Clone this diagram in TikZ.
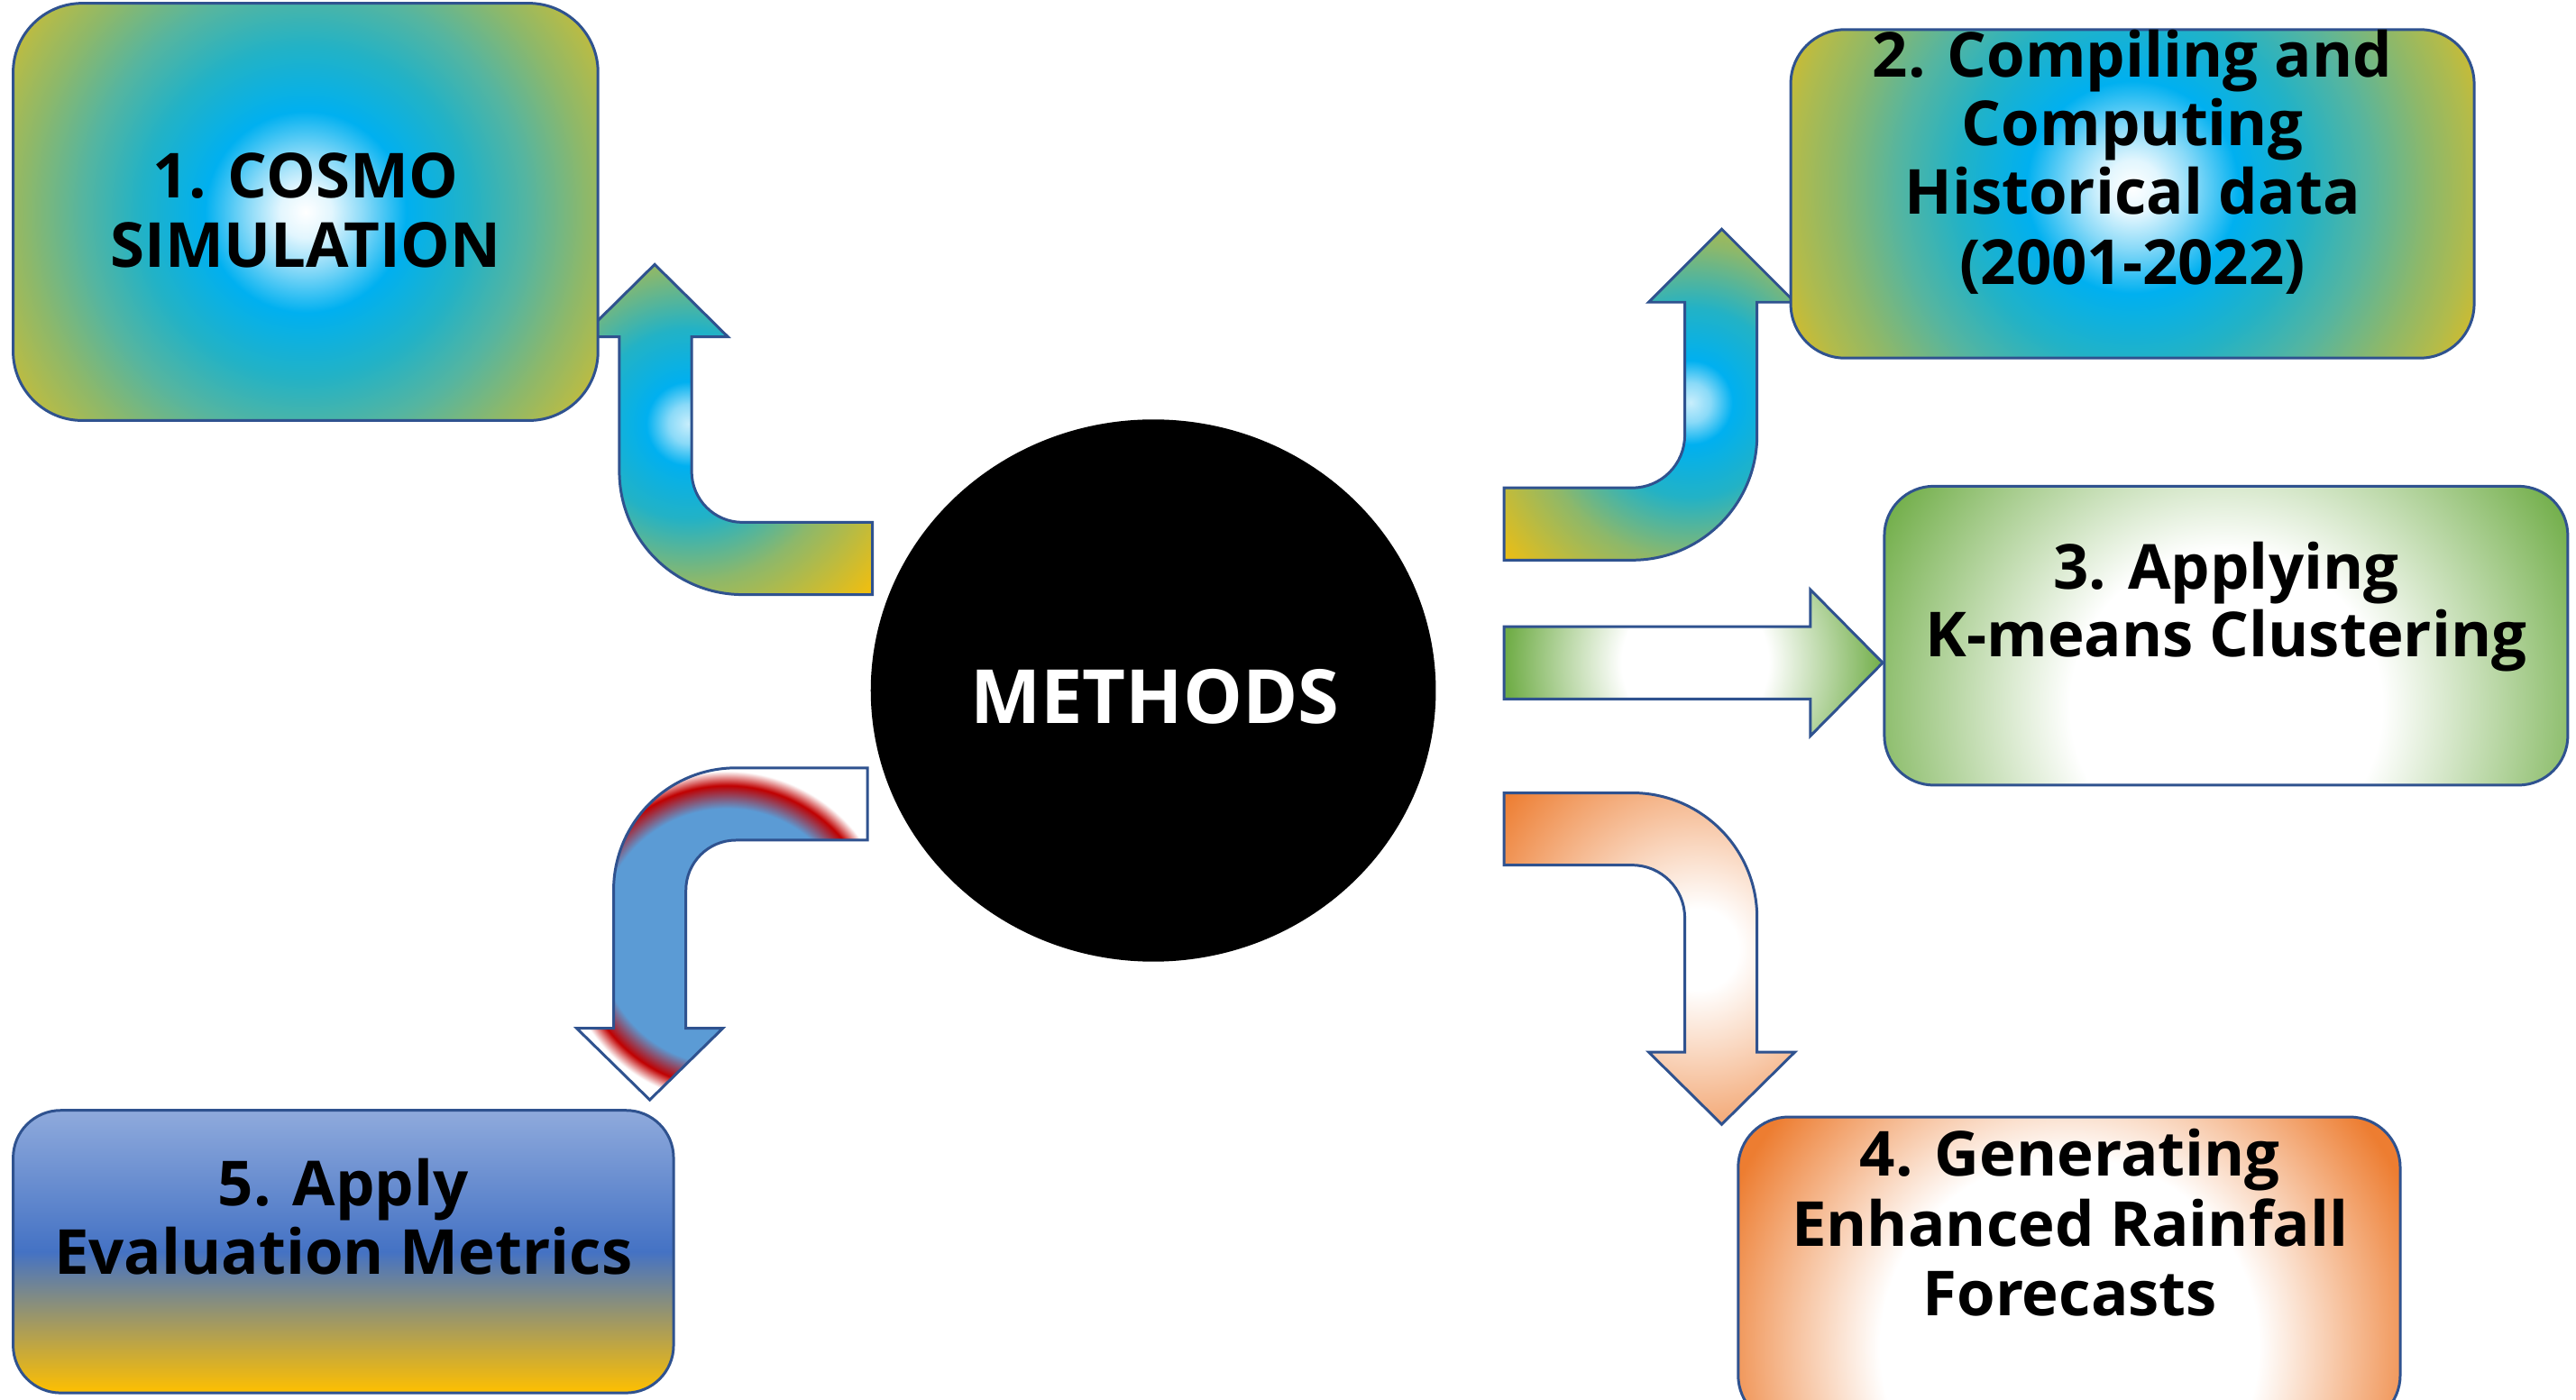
\documentclass[tikz,border=0pt]{standalone}
\usepackage{fontspec}
\setmainfont{Open Sans}
\usetikzlibrary{fit,calc,shapes.geometric}

\definecolor{bordc}{HTML}{2F528F}
\definecolor{cLight}{HTML}{E2F6FE}
\definecolor{cLightM}{HTML}{8ADAF8}
\definecolor{cLightB}{HTML}{C8EEFC}
\definecolor{cBlue}{HTML}{00B0F0}
\definecolor{cTeal}{HTML}{22B2C6}
\definecolor{cTealG}{HTML}{55B5A0}
\definecolor{cGreen}{HTML}{8DB86A}
\definecolor{cYG}{HTML}{B3BB4A}
\definecolor{cGold}{HTML}{DABB24}
\definecolor{cGoldB}{HTML}{F0BE10}
\definecolor{cGr}{HTML}{70AD47}
\definecolor{cOr}{HTML}{ED7D31}
\definecolor{cSky}{HTML}{5B9BD5}
\definecolor{cRed}{HTML}{C00000}
\definecolor{cFiveT}{HTML}{8FAADC}
\definecolor{cFiveM}{HTML}{4472C4}
\definecolor{cFiveB}{HTML}{FFC000}

\pgfdeclareradialshading{gBlue}{\pgfpoint{0bp}{0bp}}{color(0bp)=(white); color(1.8bp)=(cLight); color(4bp)=(cLightM); color(7bp)=(cBlue); color(11.5bp)=(cTeal); color(15.5bp)=(cTealG); color(19.5bp)=(cGreen); color(22.5bp)=(cYG); color(25bp)=(cGold); color(50bp)=(cGold)}
\pgfdeclareradialshading{gArrB}{\pgfpoint{0bp}{0bp}}{color(0bp)=(cLightB); color(1.5bp)=(cLightM); color(3.2bp)=(cBlue); color(7.2bp)=(cTeal); color(12bp)=(cGreen); color(18.75bp)=(cGoldB); color(50bp)=(cGoldB)}
\pgfdeclareradialshading{gArrG}{\pgfpoint{0bp}{0bp}}{color(0bp)=(white); color(5.6bp)=(white); color(14.4bp)=(cGr); color(50bp)=(cGr)}
\pgfdeclareradialshading{gArrO}{\pgfpoint{0bp}{0bp}}{color(0bp)=(white); color(3.1bp)=(white); color(18.75bp)=(cOr); color(50bp)=(cOr)}
\pgfdeclareradialshading{gArrR}{\pgfpoint{0bp}{0bp}}{color(0bp)=(cSky); color(9.75bp)=(cSky); color(11.5bp)=(cRed); color(12.6bp)=(white); color(50bp)=(white)}
\pgfdeclareradialshading{gBoxG}{\pgfpoint{0bp}{0bp}}{color(0bp)=(white); color(9.5bp)=(white); color(24bp)=(cGr); color(50bp)=(cGr)}
\pgfdeclareradialshading{gBoxO}{\pgfpoint{0bp}{0bp}}{color(0bp)=(white); color(12bp)=(white); color(23.5bp)=(cOr); color(50bp)=(cOr)}

\begin{document}
\begin{tikzpicture}[x=0.018221cm, y=-0.018221cm,
  bord/.style={draw=bordc, line width=0.85pt, line join=miter},
  box/.style={bord, rectangle, inner sep=0pt, outer sep=0pt},
  txt/.style={font=\fontsize{19.6}{23}\selectfont\bfseries, text=black, inner sep=0pt, anchor=base}]
\useasboundingbox (0,0) rectangle (1568,852);
\fill[white] (0,0) rectangle (1568,852);

% arrow 1 (up-left)
\draw[bord, path picture={\shade[shading=gArrB] (419,258) circle[radius=200];}]
 (531,318) -- (452,318) arc[start angle=90, end angle=180, radius=31] -- (421,205) -- (443,205) -- (398.5,161) -- (354,205) -- (377,205) -- (377,287) arc[start angle=180, end angle=90, radius=75] -- (531,362) -- cycle;

% arrow 2 (up-right)
\draw[bord, path picture={\shade[shading=gArrB] (1029,245) circle[radius=200];}]
 (915.5,297) -- (993.5,297) arc[start angle=90, end angle=0, radius=32] -- (1025.5,184) -- (1003.5,184) -- (1048,139.5) -- (1092.5,184) -- (1069.5,184) -- (1069.5,265) arc[start angle=0, end angle=90, radius=76] -- (915.5,341) -- cycle;

% arrow 3 (right)
\draw[bord, path picture={\shade[shading=gArrG] (1031.8,403.4) circle[radius=200];}]
 (915.5,381.5) -- (1102,381.5) -- (1102,359) -- (1146,403.5) -- (1102,448) -- (1102,425.5) -- (915.5,425.5) -- cycle;

% arrow 4 (down-right)
\draw[bord, path picture={\shade[shading=gArrO] (1033.5,578) circle[radius=200];}]
 (915.5,482.7) -- (993.5,482.7) arc[start angle=270, end angle=360, radius=76] -- (1069.5,640.5) -- (1092.5,640.5) -- (1048,684.5) -- (1003.5,640.5) -- (1025.5,640.5) -- (1025.5,558.7) arc[start angle=0, end angle=-90, radius=32] -- (915.5,526.7) -- cycle;

% arrow 5 (down-left)
\draw[bord, path picture={\shade[shading=gArrR] (442.4,570.2) circle[radius=200];}]
 (528,467.5) -- (448,467.5) arc[start angle=270, end angle=180, radius=74.5] -- (373.5,626) -- (351,626) -- (395.5,669.6) -- (440,626) -- (417.5,626) -- (417.5,542) arc[start angle=180, end angle=270, radius=30.5] -- (528,511.5) -- cycle;

% boxes
\node[box, fit={(8,2) (364,256)}, rounded corners=21.8pt,
  path picture={\shade[shading=gBlue] (path picture bounding box.center) circle[radius=219];}] (b1) {};
\node[box, fit={(1090,18) (1506,218)}, rounded corners=17.1pt,
  path picture={\shade[shading=gBlue] ($(path picture bounding box.center)+(0,-4)$) circle[radius=231];}] (b2) {};
\node[box, fit={(1147,296) (1563,478)}, rounded corners=15.6pt,
  path picture={\shade[shading=gBoxG] ($(path picture bounding box.center)+(0,43)$) circle[radius=250];}] (b3) {};
\node[box, fit={(1058,680) (1461,868)}, rounded corners=16pt,
  path picture={\shade[shading=gBoxO] ($(path picture bounding box.center)+(0,46)$) circle[radius=240];}] (b4) {};
\node[box, fit={(8,676) (410,848)}, rounded corners=15pt,
  top color=cFiveT, bottom color=cFiveB, middle color=cFiveM] (b5) {};

% centre ellipse
\node[ellipse, fill=black, draw=none, minimum width=178.3pt, minimum height=171.1pt, inner sep=0pt] (m) at (702,420.4) {};
\node[font=\fontsize{23.6}{28}\selectfont\bfseries, text=white, inner sep=0pt, anchor=base] (mt) at (703,440.7) {METHODS};

% texts
\node[txt] (t1a) at (186,120.2) {1. COSMO};
\node[txt] (t1b) at (186,162.5) {SIMULATION};
\node[txt] (t2a) at (1298,46.7) {2. Compiling and};
\node[txt] (t2b) at (1298,88.9) {Computing};
\node[txt] (t2c) at (1298,130.6) {Historical data};
\node[txt] (t2d) at (1298,172.9) {(2001-2022)};
\node[txt] (t3a) at (1355,358.4) {3. Applying};
\node[txt] (t3b) at (1355,399.6) {K-means Clustering};
\node[txt] (t4a) at (1260,716.2) {4. Generating};
\node[txt] (t4b) at (1260,759) {Enhanced Rainfall};
\node[txt] (t4c) at (1260,800.8) {Forecasts};
\node[txt] (t5a) at (209,733.8) {5. Apply};
\node[txt] (t5b) at (209,775.5) {Evaluation Metrics};
\end{tikzpicture}
\end{document}
